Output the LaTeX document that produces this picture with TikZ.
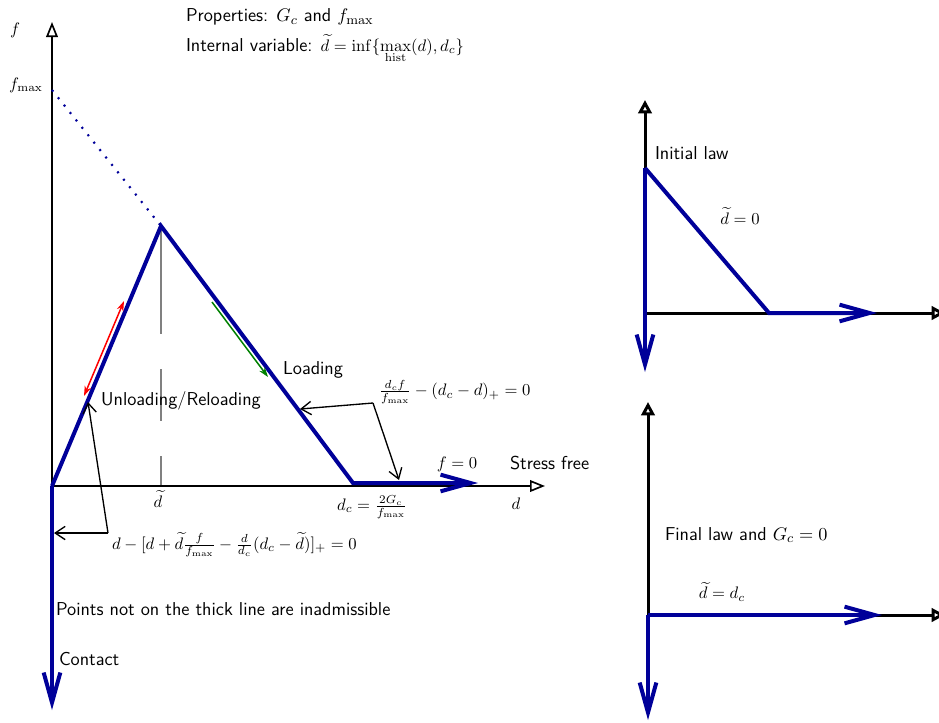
\documentclass[tikz,border=0pt]{standalone}
\usepackage{amsmath}
\usetikzlibrary{arrows.meta, positioning}
\newcommand{\eqsize}{\fontsize{9.6}{11.5}\selectfont}
\tikzset{
    axis/.style={black, line width=1pt, -{Triangle[open, length=9pt, width=7pt]}},
    bigaxis/.style={black, line width=1.8pt, -{Triangle[open, length=8pt, width=8pt]}},
    lawline/.style={blue!60!black, line width=2.4pt, line join=miter, -{Straight Barb[length=18pt, width=10pt]}},
    pointer/.style={black, line width=0.8pt, -{Straight Barb[length=6pt, width=8pt]}},
    lbl/.style={font=\fontsize{11.2}{13.4}\selectfont\sffamily, inner sep=1pt},
    eq/.style={font=\eqsize, inner sep=1pt}
}
\begin{document}
\begin{tikzpicture}[x=0.6pt, y=-0.6pt]
        \useasboundingbox (0,0) rectangle (939,722);
        % main diagram
        \coordinate (O) at (52,486);
        \coordinate (ftop) at (52,22);
        \coordinate (dend) at (545,486);
        \coordinate (fm) at (52,90);
        \coordinate (peak) at (161,226);
        \coordinate (peakfoot) at (161,486);
        \coordinate (dc) at (353,483);
        \coordinate (free) at (478,483);
        \coordinate (contact) at (52,710);
        \draw [gray, line width=0.8pt, dash pattern=on 65pt off 21pt on 31pt off 21pt on 31pt] (peak) -- (peakfoot);
        \draw [axis] (O) -- (ftop);
        \draw [axis] (O) -- (dend);
        \draw [blue!60!black, line width=1.3pt, dash pattern=on 1.2pt off 4.5pt] (fm) -- (peak);
        \draw [lawline] (O) -- (peak) -- (dc) -- (free);
        \draw [lawline] (O) -- (contact);
        % unloading / loading directions
        \coordinate (ua) at (84,396);
        \coordinate (ub) at (124,301);
        \coordinate (la) at (212,302);
        \coordinate (lb) at (268,377);
        \draw [red, line width=0.9pt, {Stealth[length=6pt, width=4pt]}-{Stealth[length=6pt, width=4pt]}] (ua) -- (ub);
        \draw [green!50!black, line width=0.9pt, -{Stealth[length=6pt, width=4pt]}] (la) -- (lb);
        % labels
        \node [eq] (flbl) at (15,30) {$f$};
        \node [eq] (fmlbl) at (26,85) {$f_{\max}$};
        \node [eq] (dtlbl) at (158,499) {$\widetilde{d}$};
        \node [eq] (dclbl) at (372,507) {$d_c=\frac{2G_c}{f_{\max}}$};
        \node [eq] (dlbl) at (516,504) {$d$};
        \node [eq] (f0) at (457,464) {$f=0$};
        \node [lbl, anchor=west] (stress) at (508,463) {Stress free};
        \node [lbl] (loading) at (313,370) {Loading};
        \node [lbl] (unload) at (181,401) {Unloading/Reloading};
        \node [eq, anchor=west] (softeq) at (377,392) {$\frac{d_cf}{f_{\max}}-(d_c-d)_+=0$};
        \node [eq, anchor=west] (contacteq) at (110,545) {$d-[d+\widetilde{d}\frac{f}{f_{\max}}-\frac{d}{d_c}(d_c-\widetilde{d})]_+=0$};
        \node [lbl, anchor=west] (inadm) at (54,609) {Points not on the thick line are inadmissible};
        \node [lbl, anchor=west] (contactlbl) at (57,659) {Contact};
        \node [lbl, anchor=west] (props) at (184,17) {Properties: $G_c$ and $f_{\max}$};
        \node [lbl, anchor=base west] (intvar) at (184,51) {Internal variable: {\eqsize$\widetilde{d}=\inf\{\max\limits_{\mathrm{hist}}(d),d_c\}$}};
        % pointers to the law
        \coordinate (c1) at (373,403);
        \coordinate (c1a) at (300,409);
        \coordinate (c1b) at (399,480);
        \coordinate (c2) at (108,533);
        \coordinate (c2a) at (88,402);
        \coordinate (c2b) at (54,533);
        \draw [pointer] (c1) -- (c1a);
        \draw [pointer] (c1) -- (c1b);
        \draw [pointer] (c2) -- (c2a);
        \draw [pointer] (c2) -- (c2b);
        % initial law
        \coordinate (Oi) at (645,313);
        \coordinate (Oitop) at (645,100);
        \coordinate (Oiend) at (945,313);
        \coordinate (fi) at (645,168);
        \coordinate (dci) at (769,313);
        \coordinate (freei) at (877,313);
        \coordinate (contacti) at (645,372);
        \draw [bigaxis] (Oi) -- (Oitop);
        \draw [bigaxis] (Oi) -- (Oiend);
        \draw [lawline] (fi) -- (contacti);
        \draw [lawline] (fi) -- (dci) -- (freei);
        \node [lbl, anchor=west] (initlbl) at (653,153) {Initial law};
        \node [eq] (d0) at (740,216) {$\widetilde{d}=0$};
        % final law
        \coordinate (Of) at (648,615);
        \coordinate (Oftop) at (648,402);
        \coordinate (Ofend) at (945,615);
        \coordinate (freef) at (882,615);
        \coordinate (contactf) at (648,720);
        \draw [bigaxis] (Of) -- (Oftop);
        \draw [bigaxis] (Of) -- (Ofend);
        \draw [lawline] (Of) -- (freef);
        \draw [lawline] (Of) -- (contactf);
        \node [lbl, anchor=west] (finallbl) at (663,535) {Final law and $G_c=0$};
        \node [eq] (ddc) at (722,592) {$\widetilde{d}=d_c$};
    \end{tikzpicture}
\end{document}
